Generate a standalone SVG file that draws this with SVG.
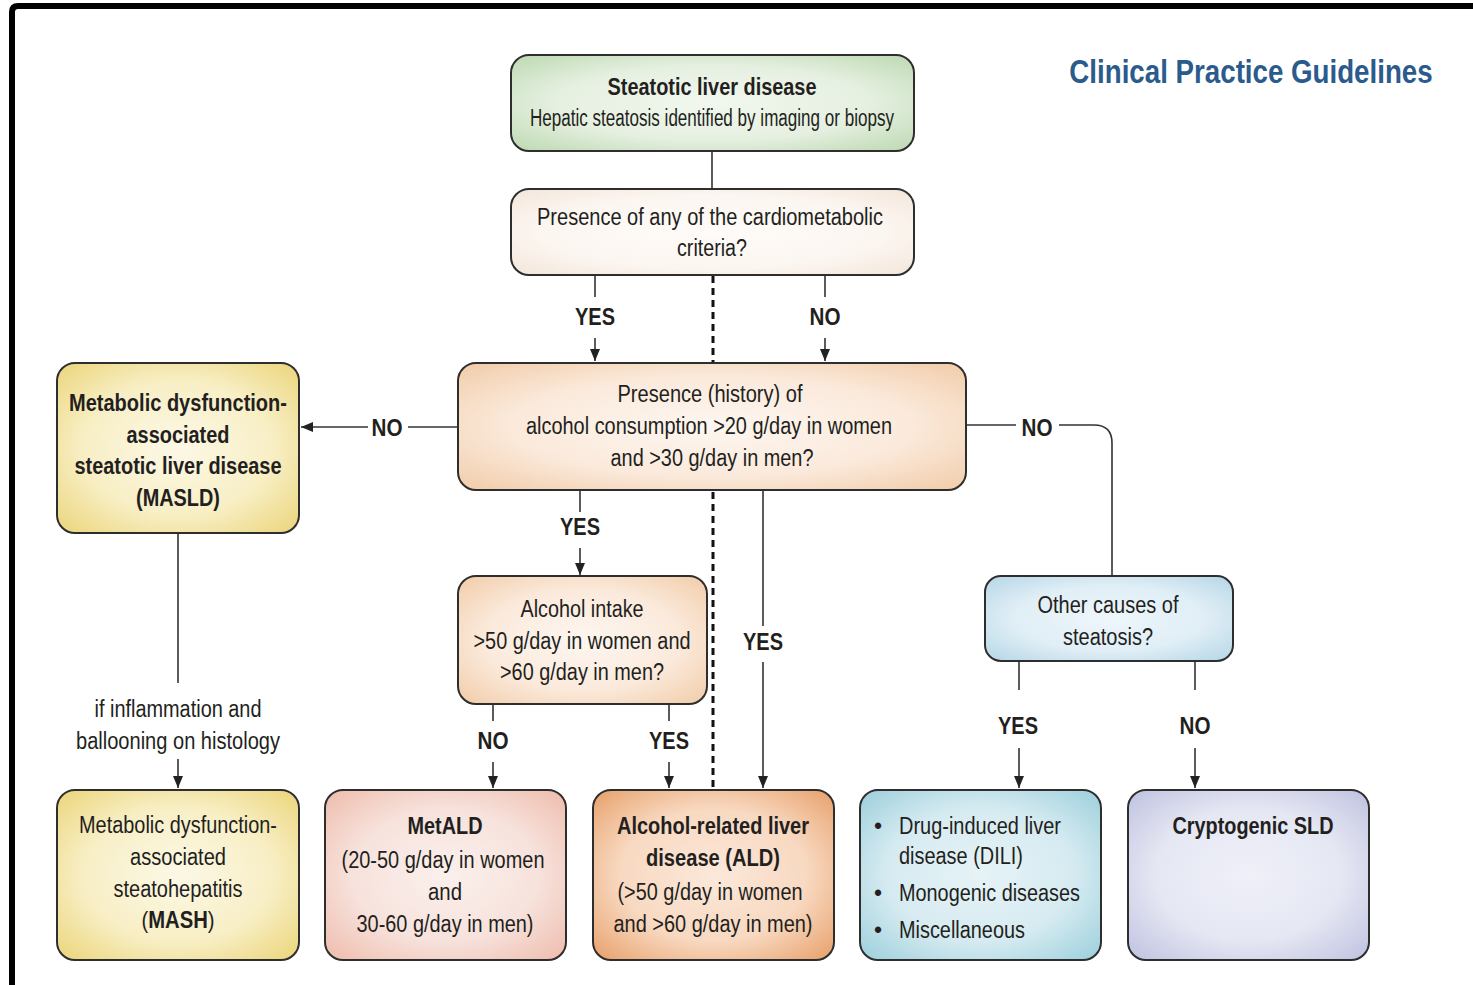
<svg xmlns="http://www.w3.org/2000/svg" width="1473" height="985" viewBox="0 0 1473 985">
<style>
.box{stroke:#2e2e2e;stroke-width:2}
.t{font-family:"Liberation Sans",Arial,sans-serif;fill:#231f20;text-anchor:middle;font-size:23px}
.b{font-weight:bold}
.l{text-anchor:start}
.lab{font-family:"Liberation Sans",Arial,sans-serif;fill:#231f20;text-anchor:middle;font-size:23px;font-weight:bold}
.c{stroke:#333;stroke-width:1.6;fill:none}
.d{stroke:#111;stroke-width:3;stroke-dasharray:7 5;fill:none}
</style>
<defs>
<marker id="ar" markerUnits="userSpaceOnUse" markerWidth="12" markerHeight="10" refX="12" refY="5" orient="auto" viewBox="0 0 12 10">
<path d="M0,0 L12,5 L0,10 z" fill="#222"/>
</marker>
<radialGradient id="gGreen" cx="0.5" cy="0.5" r="0.7"><stop offset="0" stop-color="#f1f7ee"/><stop offset="0.55" stop-color="#e6f0e1"/><stop offset="1" stop-color="#bcd9b1"/></radialGradient>
<radialGradient id="gCream" cx="0.5" cy="0.5" r="0.7"><stop offset="0" stop-color="#fefbf8"/><stop offset="0.6" stop-color="#fcf6f1"/><stop offset="1" stop-color="#f3e6da"/></radialGradient>
<radialGradient id="gPeach" cx="0.5" cy="0.5" r="0.7"><stop offset="0" stop-color="#fdf6f0"/><stop offset="0.55" stop-color="#fbeadc"/><stop offset="1" stop-color="#f1cca8"/></radialGradient>
<radialGradient id="gYellow" cx="0.5" cy="0.5" r="0.7"><stop offset="0" stop-color="#fcf8e6"/><stop offset="0.55" stop-color="#f8efc6"/><stop offset="1" stop-color="#ebd57a"/></radialGradient>
<radialGradient id="gBlue" cx="0.5" cy="0.5" r="0.7"><stop offset="0" stop-color="#eef6fb"/><stop offset="0.55" stop-color="#e0eef6"/><stop offset="1" stop-color="#b4d6e6"/></radialGradient>
<radialGradient id="gPink" cx="0.5" cy="0.5" r="0.7"><stop offset="0" stop-color="#fbf0ec"/><stop offset="0.55" stop-color="#f7e2dc"/><stop offset="1" stop-color="#eebcac"/></radialGradient>
<radialGradient id="gOrange" cx="0.5" cy="0.5" r="0.7"><stop offset="0" stop-color="#fbe8da"/><stop offset="0.55" stop-color="#f8d9c1"/><stop offset="1" stop-color="#e7a06a"/></radialGradient>
<radialGradient id="gTeal" cx="0.5" cy="0.5" r="0.7"><stop offset="0" stop-color="#e6f3f7"/><stop offset="0.55" stop-color="#d6ebf1"/><stop offset="1" stop-color="#9ccfdc"/></radialGradient>
<radialGradient id="gLav" cx="0.5" cy="0.5" r="0.7"><stop offset="0" stop-color="#eff0f8"/><stop offset="0.55" stop-color="#e5e7f3"/><stop offset="1" stop-color="#bfc2e0"/></radialGradient>
</defs>
<rect width="1473" height="985" fill="#fff"/>
<path d="M12,985 V12 Q12,6 18,6 H1473" fill="none" stroke="#000" stroke-width="6"/>
<text transform="translate(1251,83) scale(0.815,1)" x="0" y="0" font-family="Liberation Sans,Arial,sans-serif" font-weight="bold" font-size="34" fill="#2b5b8c" text-anchor="middle">Clinical Practice Guidelines</text>

<g id="connectors">
<path class="c" d="M712,151 V189"/>
<path class="c" d="M595,275 V297"/>
<path class="c" d="M595,338 V361" marker-end="url(#ar)"/>
<path class="c" d="M825,275 V297"/>
<path class="c" d="M825,338 V361" marker-end="url(#ar)"/>
<path class="d" d="M713,276 V362"/>
<path class="d" d="M713,492 V789"/>
<path class="c" d="M458,427 H408"/>
<path class="c" d="M368,427 H301" marker-end="url(#ar)"/>
<path class="c" d="M966,425 H1016"/>
<path class="c" d="M1059,425 H1094 Q1112,425 1112,443 V576"/>
<path class="c" d="M178,533 V683"/>
<path class="c" d="M178,759 V788" marker-end="url(#ar)"/>
<path class="c" d="M580,491 V512"/>
<path class="c" d="M580,548 V575" marker-end="url(#ar)"/>
<path class="c" d="M763,491 V626"/>
<path class="c" d="M763,662 V788" marker-end="url(#ar)"/>
<path class="c" d="M493,705 V721"/>
<path class="c" d="M493,762 V788" marker-end="url(#ar)"/>
<path class="c" d="M669,705 V721"/>
<path class="c" d="M669,762 V788" marker-end="url(#ar)"/>
<path class="c" d="M1019,662 V690"/>
<path class="c" d="M1019,748 V788" marker-end="url(#ar)"/>
<path class="c" d="M1195,662 V690"/>
<path class="c" d="M1195,748 V788" marker-end="url(#ar)"/>
<text class="lab" x="595" y="325" textLength="40" lengthAdjust="spacingAndGlyphs">YES</text>
<text class="lab" x="825" y="325" textLength="31" lengthAdjust="spacingAndGlyphs">NO</text>
<text class="lab" x="387" y="436" textLength="31" lengthAdjust="spacingAndGlyphs">NO</text>
<text class="lab" x="1037" y="436" textLength="31" lengthAdjust="spacingAndGlyphs">NO</text>
<text class="lab" x="580" y="535" textLength="40" lengthAdjust="spacingAndGlyphs">YES</text>
<text class="lab" x="763" y="650" textLength="40" lengthAdjust="spacingAndGlyphs">YES</text>
<text class="lab" x="493" y="749" textLength="31" lengthAdjust="spacingAndGlyphs">NO</text>
<text class="lab" x="669" y="749" textLength="40" lengthAdjust="spacingAndGlyphs">YES</text>
<text class="lab" x="1018" y="734" textLength="40" lengthAdjust="spacingAndGlyphs">YES</text>
<text class="lab" x="1195" y="734" textLength="31" lengthAdjust="spacingAndGlyphs">NO</text>
<text class="t" x="178" y="717" textLength="167" lengthAdjust="spacingAndGlyphs">if inflammation and</text>
<text class="t" x="178" y="749" textLength="204" lengthAdjust="spacingAndGlyphs">ballooning on histology</text>
</g>

<g id="n-sld">
<rect class="box" x="511" y="55" width="403" height="96" rx="18" fill="url(#gGreen)"/>
<text class="t b" x="712" y="95" font-size="24" textLength="209" lengthAdjust="spacingAndGlyphs">Steatotic liver disease</text>
<text class="t" x="712" y="126" font-size="20" fill="#333" textLength="364" lengthAdjust="spacingAndGlyphs">Hepatic steatosis identified by imaging or biopsy</text>
</g>

<g id="n-cardio">
<rect class="box" x="511" y="189" width="403" height="86" rx="18" fill="url(#gCream)"/>
<text class="t" x="710" y="225" textLength="346" lengthAdjust="spacingAndGlyphs">Presence of any of the cardiometabolic</text>
<text class="t" x="712" y="256" textLength="70" lengthAdjust="spacingAndGlyphs">criteria?</text>
</g>

<g id="n-alcohol">
<rect class="box" x="458" y="363" width="508" height="127" rx="18" fill="url(#gPeach)"/>
<text class="t" x="710" y="402" textLength="185" lengthAdjust="spacingAndGlyphs">Presence (history) of</text>
<text class="t" x="709" y="434" textLength="366" lengthAdjust="spacingAndGlyphs">alcohol consumption &gt;20 g/day in women</text>
<text class="t" x="712" y="466" textLength="203" lengthAdjust="spacingAndGlyphs">and &gt;30 g/day in men?</text>
</g>

<g id="n-masld">
<rect class="box" x="57" y="363" width="242" height="170" rx="18" fill="url(#gYellow)"/>
<text class="t b" x="178" y="411" textLength="218" lengthAdjust="spacingAndGlyphs">Metabolic dysfunction-</text>
<text class="t b" x="178" y="443" textLength="103" lengthAdjust="spacingAndGlyphs">associated</text>
<text class="t b" x="178" y="474" textLength="207" lengthAdjust="spacingAndGlyphs">steatotic liver disease</text>
<text class="t b" x="178" y="506" textLength="84" lengthAdjust="spacingAndGlyphs">(MASLD)</text>
</g>

<g id="n-intake">
<rect class="box" x="458" y="576" width="249" height="128" rx="18" fill="url(#gPeach)"/>
<text class="t" x="582" y="617" textLength="123" lengthAdjust="spacingAndGlyphs">Alcohol intake</text>
<text class="t" x="582" y="649" textLength="217" lengthAdjust="spacingAndGlyphs">&gt;50 g/day in women and</text>
<text class="t" x="582" y="680" textLength="164" lengthAdjust="spacingAndGlyphs">&gt;60 g/day in men?</text>
</g>

<g id="n-other">
<rect class="box" x="985" y="576" width="248" height="85" rx="16" fill="url(#gBlue)"/>
<text class="t" x="1108" y="613" textLength="141" lengthAdjust="spacingAndGlyphs">Other causes of</text>
<text class="t" x="1108" y="645" textLength="90" lengthAdjust="spacingAndGlyphs">steatosis?</text>
</g>

<g id="n-mash">
<rect class="box" x="57" y="790" width="242" height="170" rx="18" fill="url(#gYellow)"/>
<text class="t" x="178" y="833" textLength="198" lengthAdjust="spacingAndGlyphs">Metabolic dysfunction-</text>
<text class="t" x="178" y="865" textLength="96" lengthAdjust="spacingAndGlyphs">associated</text>
<text class="t" x="178" y="897" textLength="129" lengthAdjust="spacingAndGlyphs">steatohepatitis</text>
<text class="t" transform="translate(178,928) scale(0.88,1)" x="0" y="0">(<tspan font-weight="bold">MASH</tspan>)</text>
</g>

<g id="n-metald">
<rect class="box" x="325" y="790" width="241" height="170" rx="18" fill="url(#gPink)"/>
<text class="t b" x="445" y="834" textLength="75" lengthAdjust="spacingAndGlyphs">MetALD</text>
<text class="t" x="443" y="868" textLength="203" lengthAdjust="spacingAndGlyphs">(20-50 g/day in women</text>
<text class="t" x="445" y="900" textLength="34" lengthAdjust="spacingAndGlyphs">and</text>
<text class="t" x="445" y="932" textLength="177" lengthAdjust="spacingAndGlyphs">30-60 g/day in men)</text>
</g>

<g id="n-ald">
<rect class="box" x="593" y="790" width="241" height="170" rx="18" fill="url(#gOrange)"/>
<text class="t b" x="713" y="834" textLength="192" lengthAdjust="spacingAndGlyphs">Alcohol-related liver</text>
<text class="t b" x="713" y="866" textLength="134" lengthAdjust="spacingAndGlyphs">disease (ALD)</text>
<text class="t" x="710" y="900" textLength="185" lengthAdjust="spacingAndGlyphs">(&gt;50 g/day in women</text>
<text class="t" x="713" y="932" textLength="199" lengthAdjust="spacingAndGlyphs">and &gt;60 g/day in men)</text>
</g>

<g id="n-other-causes">
<rect class="box" x="860" y="790" width="241" height="170" rx="18" fill="url(#gTeal)"/>
<text class="t" x="878" y="834">•</text>
<text class="t l" x="899" y="834" textLength="162" lengthAdjust="spacingAndGlyphs">Drug-induced liver</text>
<text class="t l" x="899" y="864" textLength="124" lengthAdjust="spacingAndGlyphs">disease (DILI)</text>
<text class="t" x="878" y="901">•</text>
<text class="t l" x="899" y="901" textLength="181" lengthAdjust="spacingAndGlyphs">Monogenic diseases</text>
<text class="t" x="878" y="938">•</text>
<text class="t l" x="899" y="938" textLength="126" lengthAdjust="spacingAndGlyphs">Miscellaneous</text>
</g>

<g id="n-crypto">
<rect class="box" x="1128" y="790" width="241" height="170" rx="18" fill="url(#gLav)"/>
<text class="t b" x="1253" y="834" textLength="161" lengthAdjust="spacingAndGlyphs">Cryptogenic SLD</text>
</g>
</svg>
